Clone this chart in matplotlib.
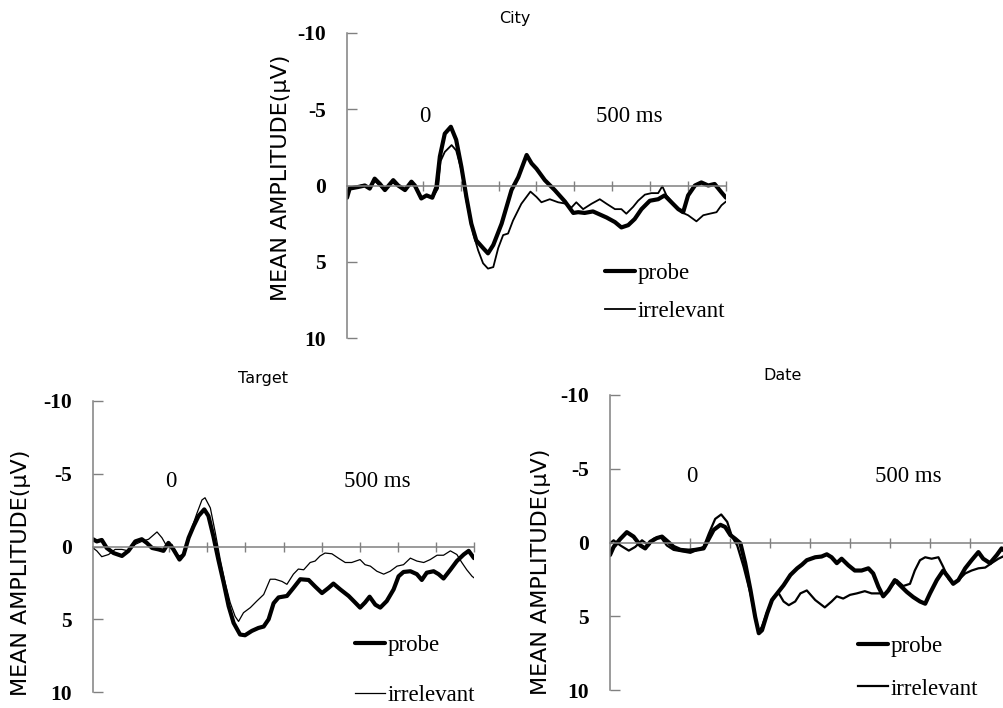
import matplotlib
matplotlib.use("Agg")
import matplotlib.pyplot as plt

plt.rcParams['axes.unicode_minus'] = False

# ---------------- data (time in ms, amplitude in microvolts) ----------------
city_probe_t = [-200, -193, -171, -153, -140, -127, -113, -100, -78, -65, -47, -30, -21, -4, 10, 25, 36, 45, 58, 74,
                88, 102, 115, 128, 141, 159, 172, 186, 208, 234, 252, 274, 287, 300, 322, 348, 375, 397, 410, 427,
                449, 467, 485, 507, 524, 542, 559, 577, 599, 621, 638, 656, 674, 687, 700, 718, 735, 753, 770, 788, 800]
city_probe_v = [0.8, 0.2, 0.1, 0.0, 0.2, -0.45, -0.1, 0.3, -0.35, 0.0, 0.3, -0.25, 0.0, 0.85, 0.65, 0.8, 0.1, -1.9, -3.4, -3.85,
                -3.0, -1.2, 0.75, 2.5, 3.6, 4.1, 4.45, 3.9, 2.5, 0.3, -0.55, -2.0, -1.45, -1.1, -0.35, 0.3, 1.05, 1.8, 1.75, 1.8,
                1.7, 1.9, 2.1, 2.4, 2.75, 2.6, 2.2, 1.55, 1.0, 0.9, 0.65, 1.1, 1.55, 1.75, 0.65, 0.0, -0.2, 0.0, -0.1, 0.45, 0.8]

city_irr_t = [-200, -190, -170, -155, -140, -127, -112, -100, -80, -62, -47, -30, -18, -3, 12, 27, 40, 47, 58, 76,
              88, 102, 115, 133, 146, 159, 172, 186, 199, 212, 225, 238, 260, 284, 300, 313, 335, 357, 379, 392,
              405, 423, 445, 467, 485, 507, 524, 537, 555, 568, 586, 603, 621, 632, 643, 665, 682, 700, 722, 740,
              757, 775, 788, 800]
city_irr_v = [0.5, 0.1, 0.05, -0.05, 0.25, -0.3, 0.05, 0.3, -0.2, 0.1, 0.25, -0.1, 0.1, 0.8, 0.65, 0.75, 0.2, -1.6, -2.2, -2.65,
              -2.3, -1.0, 1.0, 3.15, 4.25, 5.1, 5.45, 5.35, 4.1, 3.25, 3.15, 2.3, 1.2, 0.4, 0.75, 1.1, 0.9, 1.1, 1.2, 1.45,
              1.1, 1.55, 1.2, 0.9, 1.2, 1.55, 1.55, 1.85, 1.4, 1.0, 0.6, 0.5, 0.5, 0.05, 0.65, 1.3, 1.75, 1.95, 2.35, 1.95,
              1.85, 1.75, 1.3, 1.05]

target_probe_t = [-200, -190, -177, -164, -146, -124, -107, -89, -72, -59, -45, -28, -15, -2, 11, 27, 38, 51, 64, 77,
                  92, 103, 116, 129, 143, 156, 169, 186, 199, 217, 234, 248, 261, 274, 287, 309, 326, 344, 366, 383,
                  401, 418, 431, 449, 471, 488, 501, 514, 526, 541, 554, 571, 589, 602, 615, 633, 650, 663, 676, 694,
                  707, 720, 738, 755, 773, 786, 800]
target_probe_v = [-0.5, -0.35, -0.45, 0.1, 0.45, 0.65, 0.3, -0.35, -0.5, -0.25, 0.1, 0.2, 0.3, -0.25, 0.2, 0.9, 0.55, -0.6, -1.4, -2.1,
                  -2.55, -2.1, -0.7, 0.9, 2.5, 4.1, 5.25, 6.05, 6.1, 5.8, 5.6, 5.5, 5.0, 3.9, 3.5, 3.4, 2.85, 2.25, 2.3, 2.75,
                  3.2, 2.85, 2.55, 2.95, 3.4, 3.85, 4.2, 3.85, 3.45, 4.0, 4.2, 3.75, 2.95, 2.05, 1.75, 1.7, 1.9, 2.3, 1.8, 1.7,
                  1.9, 2.2, 1.6, 1.0, 0.55, 0.3, 0.8]

target_irr_t = [-200, -190, -177, -159, -142, -124, -107, -89, -72, -54, -32, -19, -6, 7, 24, 38, 55, 73, 86, 94,
                108, 121, 134, 147, 160, 173, 182, 195, 213, 230, 248, 265, 278, 296, 309, 326, 339, 353, 370, 383,
                396, 409, 427, 444, 462, 479, 501, 514, 528, 545, 563, 580, 598, 615, 633, 650, 668, 685, 703, 720,
                738, 755, 768, 781, 795, 800]
target_irr_v = [0.1, 0.3, 0.7, 0.55, 0.2, 0.2, 0.3, -0.15, -0.35, -0.5, -1.0, -0.6, 0.0, -0.15, 0.65, 0.55, -0.95, -2.3, -3.2, -3.35,
                -2.65, -0.95, 0.9, 2.5, 3.85, 4.8, 5.15, 4.55, 4.2, 3.75, 3.3, 2.25, 2.25, 2.4, 2.6, 1.9, 1.55, 1.6, 1.1, 1.0,
                0.65, 0.45, 0.5, 0.8, 1.1, 1.1, 0.9, 1.25, 1.35, 1.7, 1.9, 1.7, 1.35, 1.25, 0.8, 1.0, 1.1, 0.9, 0.6, 0.6,
                0.3, 0.55, 1.1, 1.6, 2.05, 2.15]

date_probe_t = [-200, -191, -174, -158, -141, -124, -112, -99, -83, -70, -53, -41, -24, -3, 13, 34, 47, 59, 76, 88,
                101, 113, 126, 138, 151, 163, 172, 180, 193, 205, 218, 234, 251, 268, 280, 292, 313, 329, 342, 354,
                367, 379, 396, 412, 429, 446, 458, 471, 483, 496, 512, 525, 542, 558, 575, 588, 600, 617, 633, 646,
                658, 671, 688, 704, 721, 733, 750, 767, 779, 790]
date_probe_v = [0.85, 0.3, -0.25, -0.7, -0.4, 0.2, 0.4, -0.05, -0.3, -0.4, 0.0, 0.3, 0.5, 0.55, 0.5, 0.4, -0.25, -0.85, -1.2, -1.05,
                -0.5, -0.25, 0.05, 1.4, 3.2, 5.05, 6.15, 5.95, 4.8, 3.9, 3.45, 2.9, 2.2, 1.75, 1.5, 1.2, 1.0, 0.95, 0.8, 1.0,
                1.4, 1.1, 1.55, 1.9, 1.9, 1.75, 2.1, 3.0, 3.65, 3.25, 2.55, 2.9, 3.35, 3.7, 4.0, 4.15, 3.45, 2.55, 1.9, 2.35,
                2.8, 2.55, 1.75, 1.2, 0.65, 1.1, 1.4, 0.85, 0.4, 0.65]

date_irr_t = [-200, -191, -174, -153, -137, -120, -103, -91, -74, -58, -41, -20, 1, 18, 34, 47, 63, 78, 93, 105,
              118, 134, 151, 163, 172, 180, 193, 209, 222, 234, 247, 263, 276, 292, 313, 337, 354, 367, 383, 400,
              417, 437, 454, 475, 487, 500, 517, 533, 550, 562, 575, 588, 604, 621, 633, 646, 658, 671, 688, 704,
              721, 738, 754, 771, 790]
date_irr_v = [0.05, -0.15, 0.2, 0.55, 0.3, -0.15, 0.2, -0.25, -0.4, 0.2, 0.5, 0.6, 0.7, 0.5, 0.3, -0.6, -1.6, -1.9, -1.4, -0.4,
              0.2, 1.65, 3.45, 5.05, 6.05, 5.7, 4.7, 3.7, 3.45, 4.0, 4.25, 4.0, 3.45, 3.25, 3.9, 4.4, 4.0, 3.65, 3.8, 3.55,
              3.45, 3.3, 3.45, 3.45, 3.55, 3.1, 2.55, 2.95, 2.8, 1.9, 1.2, 1.0, 1.1, 1.0, 1.65, 2.45, 2.8, 2.55, 2.1, 1.9,
              1.75, 1.7, 1.4, 1.1, 0.85]

panel_titles = ["City", "Target", "Date"]
series_labels = ["probe", "irrelevant"]
y_ticks = [-10, -5, 0, 5, 10]
y_tick_labels = ["-10", "-5", "0", "5", "10"]
x_ticks = [0, 100, 200, 300, 400, 500, 600, 700, 800]
y_label = "MEAN AMPLITUDE(\u03bcV)"
onset_label = "0"
time_label = "500 ms"

# ---------------- figure ----------------
W, H = 1004, 708
fig = plt.figure(figsize=(W / 100, H / 100), dpi=100)
gray = "#808080"
serif = "Liberation Serif"


def px_rect(left, top, right, bottom):
    return [left / W, 1 - bottom / H, (right - left) / W, (bottom - top) / H]


def draw(ax, tp, vp, ti, vi, lw_p, lw_i, anchor, lspace):
    hi, = ax.plot(ti, vi, color="black", lw=lw_i, solid_joinstyle="round")
    hp, = ax.plot(tp, vp, color="black", lw=lw_p, solid_joinstyle="round", solid_capstyle="round")
    ax.set_xlim(-200, 800)
    ax.set_ylim(10, -10)
    ax.set_yticks(y_ticks)
    ax.set_yticklabels(y_tick_labels, fontfamily=serif, fontweight="bold", fontsize=15.5)
    ax.set_xticks(x_ticks)
    ax.tick_params(axis="x", labelbottom=False, direction="inout", length=7, width=1, color=gray)
    ax.tick_params(axis="y", direction="in", length=7, width=1, color=gray, pad=15)
    ax.spines["bottom"].set_position(("data", 0))
    for s in ("top", "right"):
        ax.spines[s].set_visible(False)
    for s in ("left", "bottom"):
        ax.spines[s].set_color(gray)
        ax.spines[s].set_linewidth(1.1)
    ax.patch.set_visible(False)
    ax.text(5, -4.5, onset_label, fontfamily=serif, fontsize=16.5, ha="center", va="center")
    ax.text(545, -4.5, time_label, fontfamily=serif, fontsize=16.5, ha="center", va="center")
    ax.legend([hp, hi], series_labels, loc="center left", bbox_to_anchor=anchor, frameon=False,
              prop=dict(family=serif, size=16.5), handlelength=1.3, handletextpad=0.12,
              labelspacing=lspace, borderpad=0, borderaxespad=0)


ax_city = fig.add_axes(px_rect(347, 33, 726, 338))
draw(ax_city, city_probe_t, city_probe_v, city_irr_t, city_irr_v, 3.0, 1.3, (0.681, 0.149), 0.75)

ax_target = fig.add_axes(px_rect(93, 401, 474, 692))
draw(ax_target, target_probe_t, target_probe_v, target_irr_t, target_irr_v, 3.0, 0.9, (0.688, 0.074), 1.25)

ax_date = fig.add_axes(px_rect(610, 395, 1010, 690))
draw(ax_date, date_probe_t, date_probe_v, date_irr_t, date_irr_v, 3.0, 1.6, (0.62, 0.076), 0.95)

# titles and y labels
fig.text(515 / W, 1 - 18 / H, panel_titles[0], ha="center", va="center", fontsize=11.5)
fig.text(263 / W, 1 - 378 / H, panel_titles[1], ha="center", va="center", fontsize=11.5)
fig.text(783 / W, 1 - 375 / H, panel_titles[2], ha="center", va="center", fontsize=11.5)

for x, y in [(281, 178), (21, 573), (541, 572)]:
    fig.text(x / W, 1 - y / H, y_label, rotation=90, ha="center", va="center", fontsize=16)

fig.savefig("out.png", dpi=100)
